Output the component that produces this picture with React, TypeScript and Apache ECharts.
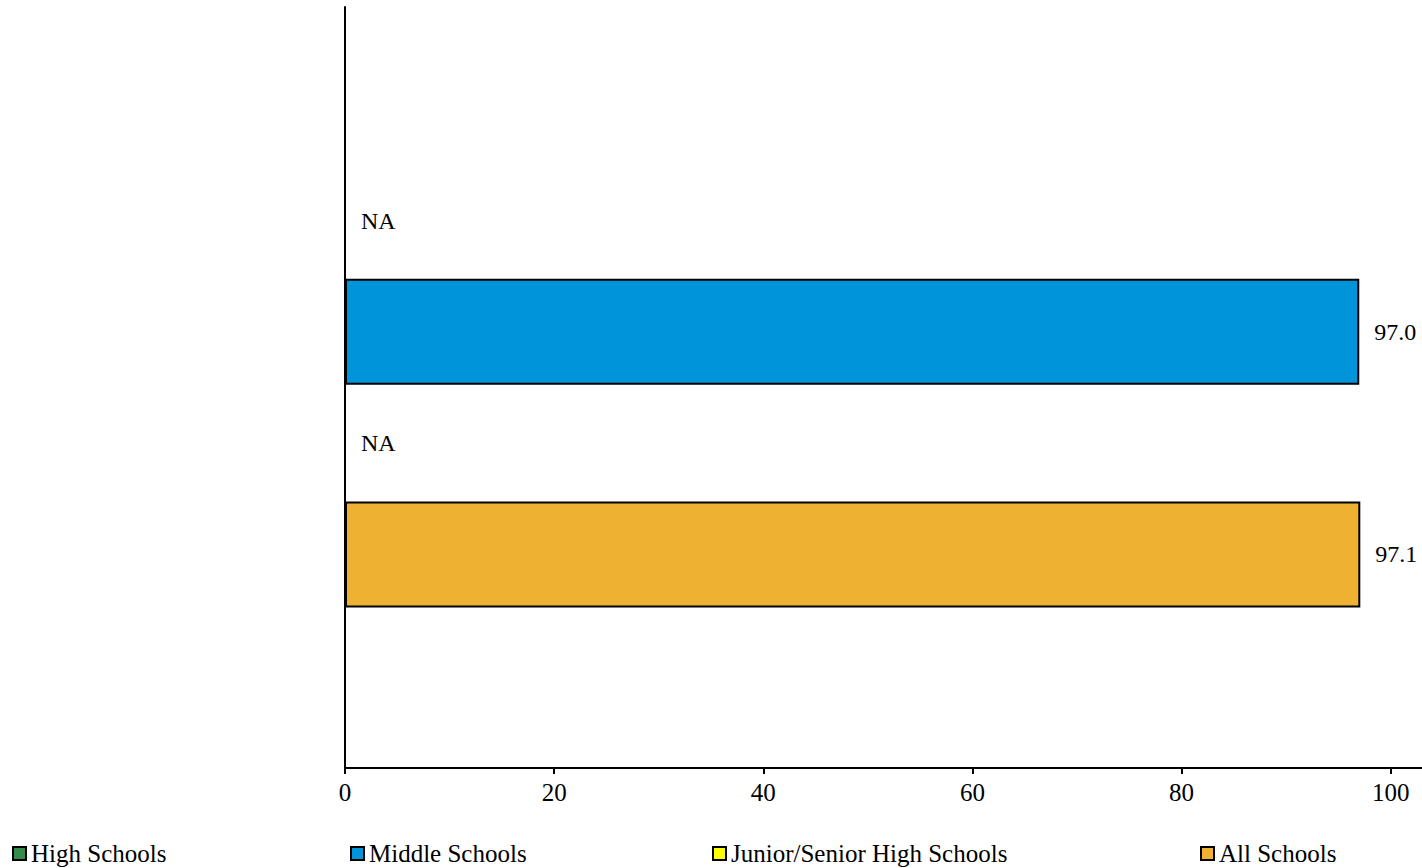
import React, { useEffect, useRef } from "react";
import * as echarts from "echarts";

const categories = ["Schools"];
const seriesNames = ["High Schools", "Middle Schools", "Junior/Senior High Schools", "All Schools"];
const seriesValues: (number | null)[] = [null, 97.0, null, 97.1];
const seriesColors = ["#358B4A", "#0095DA", "#FFFF00", "#EFB131"];
const xTicks = [0, 20, 40, 60, 80, 100];
const legendLefts = [12, 350, 712, 1200];

const FONT = "Times New Roman, Liberation Serif, DejaVu Serif, serif";

export default function App() {
  const ref = useRef<HTMLDivElement>(null);
  useEffect(() => {
    if (!ref.current) return;
    const chart = echarts.init(ref.current, null, { renderer: "svg" });
    const series = seriesNames.map((name, i) => {
      const v = seriesValues[i];
      return {
        name,
        type: "bar",
        barWidth: 106,
        barGap: "5%",
        itemStyle: { color: seriesColors[i], borderColor: "#000", borderWidth: 2 },
        label: {
          show: true,
          position: "right",
          distance: 15,
          color: "#000",
          fontFamily: FONT,
          fontSize: 24,
          formatter: () => (v === null ? "NA" : v.toFixed(1)),
        },
        data: [v === null ? 0 : v],
      };
    });
    const legends = seriesNames.map((name, i) => ({
      show: true,
      left: legendLefts[i],
      top: 841,
      padding: 0,
      selectedMode: false,
      itemWidth: 13,
      itemHeight: 13,
      icon: "rect",
      itemStyle: { borderColor: "#000", borderWidth: 2 },
      textStyle: { fontFamily: FONT, fontSize: 25, color: "#000" },
      data: [name],
    }));
    chart.setOption({
      animation: false,
      backgroundColor: "#fff",
      textStyle: { fontFamily: FONT },
      grid: { left: 345, right: 0, top: 7, bottom: 100, containLabel: false },
      legend: legends,
      xAxis: {
        type: "value",
        min: 0,
        max: 103,
        splitLine: { show: false },
        axisLine: { show: true, lineStyle: { color: "#000", width: 2 } },
        axisTick: { show: true, customValues: xTicks, length: 6, lineStyle: { color: "#000", width: 2 } },
        axisLabel: { customValues: xTicks, color: "#000", fontFamily: FONT, fontSize: 25, margin: 12 },
      },
      yAxis: {
        type: "category",
        inverse: true,
        data: categories,
        axisLine: { show: true, lineStyle: { color: "#000", width: 2 } },
        axisTick: { show: false },
        axisLabel: { show: false },
      },
      series,
    });
    return () => chart.dispose();
  }, []);
  return (
    <div
      ref={ref}
      style={{ position: "absolute", left: 0, top: 0, width: 1422, height: 868, fontFamily: "Liberation Serif" }}
    />
  );
}
